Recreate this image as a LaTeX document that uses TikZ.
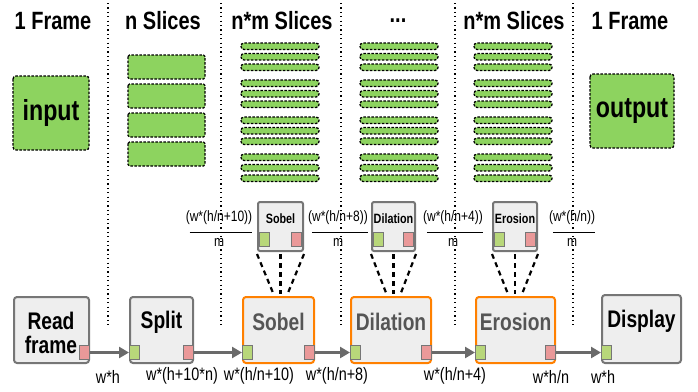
\documentclass[tikz,border=0pt]{standalone}
\usepackage{fontspec}
\setmainfont{Liberation Sans}[FakeStretch=0.8]
\usepackage{tikz}
\usetikzlibrary{arrows.meta, positioning, calc}
\definecolor{slicegreen}{RGB}{141, 211, 95}
\definecolor{portgreen}{RGB}{184, 215, 122}
\definecolor{portred}{RGB}{234, 153, 153}
\definecolor{boxgray}{RGB}{238, 238, 238}
\definecolor{edgegray}{RGB}{118, 118, 118}
\definecolor{kernelorange}{RGB}{255, 128, 0}
\definecolor{textgray}{RGB}{85, 85, 85}
\newcommand{\fsz}[1]{\fontsize{#1}{#1}\selectfont}

\begin{document}
\begin{tikzpicture}[x=1pt, y=-1pt,
    slice/.style={fill=slicegreen, draw=black, line width=1.3pt, dash pattern=on 2.5pt off 1.5pt, rounded corners=1.5pt},
    bar/.style={slice, rounded corners=3pt},
    sep/.style={draw=black, line width=1.2pt, dash pattern=on 1.2pt off 3.2pt},
    title/.style={font=\fsz{25}\bfseries},
    stagebox/.style={draw=edgegray, fill=boxgray, line width=2pt, rounded corners=3pt, inner sep=0pt, minimum height=66pt},
    kernel/.style={stagebox, draw=kernelorange},
    minibox/.style={draw=edgegray, fill=boxgray, line width=2pt, rounded corners=2pt, inner sep=0pt, minimum height=49pt},
    inport/.style={draw=edgegray, line width=1pt, fill=portgreen, inner sep=0pt, minimum width=10pt, minimum height=14pt, anchor=south west},
    outport/.style={inport, fill=portred, anchor=south east},
    flow/.style={draw=edgegray!90!black, line width=2.5pt, -{Triangle[length=10pt, width=11pt]}},
    funnel/.style={draw=black, line width=2.2pt, dash pattern=on 5pt off 4pt},
    rate/.style={font=\fsz{18}},
    ratio/.style={font=\fsz{15}, inner sep=0pt}]
    \useasboundingbox (0,0) rectangle (698,391);

    % Column separators
    \foreach \x in {108, 221, 341, 455, 573}
        \draw[sep] (\x,3) -- (\x,328);

    % Column titles
    \node[title] (t1) at (53,21) {1 Frame};
    \node[title] (t2) at (163,21) {n Slices};
    \node[title] (t3) at (282,21) {n*m Slices};
    \node[title] (t4) at (398,21) {...};
    \node[title] (t5) at (514,21) {n*m Slices};
    \node[title] (t6) at (630,21) {1 Frame};

    % Frames
    \draw[slice, rounded corners=3pt] (13,76) rectangle (89,150);
    \node[font=\fsz{29}\bfseries] (in) at (51,113) {input};
    \draw[slice, rounded corners=3pt] (590,74) rectangle (674,148);
    \node[font=\fsz{29}\bfseries] (out) at (632,111) {output};

    % n slices
    \foreach \k in {0,...,3}
        \draw[slice] (128,{55+29*\k}) rectangle (205,{79+29*\k});

    % n*m slices
    \foreach \x in {241, 360, 474}
        \foreach \g in {0,...,3}
            \foreach \b in {0,...,2}
                \draw[bar] (\x,{43+37*\g+10.5*\b}) rectangle ({\x+78},{49.5+37*\g+10.5*\b});

    % Pipeline stages
    \node[stagebox, minimum width=75pt] (read) at (51.5,330) {};
    \node[font=\fsz{24}\bfseries, align=center, inner sep=0pt] (readtxt) at (51,333)
        {Read\\frame};
    \node[stagebox, minimum width=63pt] (split) at (161.5,330) {};
    \node[font=\fsz{24}\bfseries] (splittxt) at ([yshift=8pt]split.center) {Split};
    \node[kernel, minimum width=71pt] (sobel) at (278.5,330) {};
    \node[font=\fsz{24}\bfseries, text=textgray] (sobeltxt) at ([yshift=8pt]sobel.center) {Sobel};
    \node[kernel, minimum width=80pt] (dilation) at (391,330) {};
    \node[font=\fsz{24}\bfseries, text=textgray] (dilationtxt) at ([yshift=8pt]dilation.center) {Dilation};
    \node[kernel, minimum width=79pt] (erosion) at (515.5,330) {};
    \node[font=\fsz{24}\bfseries, text=textgray] (erosiontxt) at ([yshift=8pt]erosion.center) {Erosion};
    \node[stagebox, minimum width=79pt, minimum height=68pt] (display) at (641.5,329) {};
    \node[font=\fsz{24}\bfseries] (displaytxt) at ([yshift=8pt]display.center) {Display};

    % Ports
    \node[outport] (read-out) at ([yshift=4pt]read.south east) {};
    \node[inport] (split-in) at ([yshift=4pt]split.south west) {};
    \node[outport] (split-out) at ([yshift=4pt]split.south east) {};
    \node[inport] (sobel-in) at ([yshift=4pt]sobel.south west) {};
    \node[outport] (sobel-out) at ([yshift=4pt]sobel.south east) {};
    \node[inport] (dilation-in) at ([yshift=4pt]dilation.south west) {};
    \node[outport] (dilation-out) at ([yshift=4pt]dilation.south east) {};
    \node[inport] (erosion-in) at ([yshift=4pt]erosion.south west) {};
    \node[outport] (erosion-out) at ([yshift=4pt]erosion.south east) {};
    \node[inport] (display-in) at ([yshift=4pt]display.south west) {};

    % Data flow
    \draw[flow] (read-out.east) -- (split-in.west);
    \draw[flow] (split-out.east) -- (sobel-in.west);
    \draw[flow] (sobel-out.east) -- (dilation-in.west);
    \draw[flow] (dilation-out.east) -- (erosion-in.west);
    \draw[flow] (erosion-out.east) -- (display-in.west);

    % Buffer sizes
    \node[rate] (r1) at (108,377) {w*h};
    \node[rate] (r2) at (182,376) {w*(h+10*n)};
    \node[rate] (r3) at (259,376) {w*(h/n+10)};
    \node[rate] (r4) at (337,376) {w*(h/n+8)};
    \node[rate] (r5) at (455,376) {w*(h/n+4)};
    \node[rate] (r6) at (551,377) {w*h/n};
    \node[rate] (r7) at (603,377) {w*h};

    % Kernels on one slice
    \node[minibox, minimum width=45pt] (sobel-mini) at (280.5,226.5) {};
    \node[font=\fsz{13.5}\bfseries] (sobel-minitxt) at ([yshift=8pt]sobel-mini.center) {Sobel};
    \node[minibox, minimum width=43pt] (dilation-mini) at (393.5,226.5) {};
    \node[font=\fsz{13.5}\bfseries] (dilation-minitxt) at ([yshift=8pt]dilation-mini.center) {Dilation};
    \node[minibox, minimum width=44pt] (erosion-mini) at (515,226.5) {};
    \node[font=\fsz{13.5}\bfseries] (erosion-minitxt) at ([yshift=8pt]erosion-mini.center) {Erosion};
    \foreach \k in {sobel, dilation, erosion} {
        \node[inport] (\k-mini-in) at ([shift={(2pt,5pt)}]\k-mini.south west) {};
        \node[outport] (\k-mini-out) at ([shift={(-2pt,5pt)}]\k-mini.south east) {};
        \draw[funnel] ([yshift=-2pt]\k-mini.south west) -- ([shift={(-7pt,-42pt)}]\k-mini.south);
        \draw[funnel] ([yshift=-2pt]\k-mini.south) -- ([yshift=-42pt]\k-mini.south);
        \draw[funnel] ([yshift=-2pt]\k-mini.south east) -- ([shift={(7pt,-42pt)}]\k-mini.south);
    }

    % Slice sizes
    \node[ratio] (q1) at (219,218) {(w*(h/n+10))};
    \node[ratio] (q1m) at (219,242) {m};
    \node[ratio] (q2) at (338,218) {(w*(h/n+8))};
    \node[ratio] (q2m) at (338,242) {m};
    \node[ratio] (q3) at (453,218) {(w*(h/n+4))};
    \node[ratio] (q3m) at (453,242) {m};
    \node[ratio] (q4) at (572,218) {(w*(h/n))};
    \node[ratio] (q4m) at (572,242) {m};
    \foreach \q in {q1, q2, q3, q4}
        \draw[line width=1pt] ([shift={(4pt,-7pt)}]\q.south west) -- ([yshift=-7pt]\q.south east);

\end{tikzpicture}
\end{document}
